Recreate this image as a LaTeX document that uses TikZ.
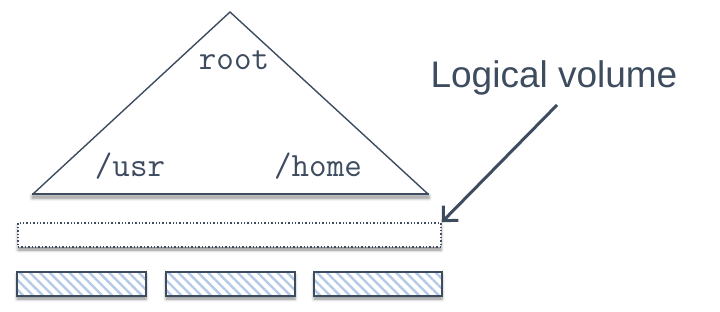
\documentclass[tikz,border=0pt]{standalone}
\usepackage{fontspec}
\setmainfont{Liberation Sans}
\usepackage{tikz}
\usetikzlibrary{arrows.meta, patterns.meta, shadows.blur}

\definecolor{slate}{HTML}{3E4C5F}
\definecolor{hatch}{HTML}{B5CAE6}

\tikzset{
  soft/.style={blur shadow={shadow xshift=0pt, shadow yshift=-3pt,
      shadow blur radius=3pt, shadow opacity=45}},
  dirname/.style={font=\fontsize{34}{34}\selectfont\ttfamily, text=slate,
      inner sep=0pt, anchor=base},
  lvbox/.style={draw=slate, dotted, line width=1.4pt, fill=white, soft,
      minimum width=423pt, minimum height=24pt, inner sep=0pt},
  pvbox/.style={draw=slate, line width=2.4pt, soft, preaction={fill=white},
      pattern={Lines[angle=-45, distance=7pt, line width=2.4pt]},
      pattern color=hatch, minimum width=129pt, minimum height=24pt,
      inner sep=0pt}
}

\begin{document}
\begin{tikzpicture}[x=1pt, y=-1pt]
      \useasboundingbox (0,0) rectangle (720,312);

      \draw[slate, line width=1.4pt, line join=miter] (33,194) -- (230,12) -- (428,194);
      \fill[slate, soft] (32,192.7) rectangle (429,195.3);

      \node[dirname] (root) at (234,70) {root};
      \node[dirname] (usr) at (130,177) {/usr};
      \node[dirname] (home) at (318,177) {/home};

      \node[lvbox] (lv) at (229.5,235) {};

      \node[pvbox] (pv1) at (81.5,284) {};
      \node[pvbox] (pv2) at (230.5,284) {};
      \node[pvbox, minimum width=128pt] (pv3) at (378,284) {};

      \node[font=\fontsize{37}{37}\selectfont, text=slate, inner sep=0pt, anchor=base] (label) at (554,88) {Logical volume};
      \coordinate (tail) at (557,105);

      \draw[slate, line width=3pt, -{Straight Barb[length=11pt, width=21pt]}] (tail) -- (lv.north east);

    \end{tikzpicture}
\end{document}
